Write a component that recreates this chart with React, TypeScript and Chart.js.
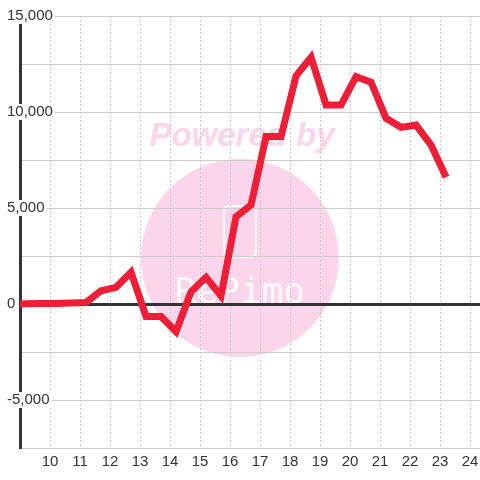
import React, { useEffect, useRef } from 'react';
import { Chart, registerables } from 'chart.js';

Chart.register(...registerables);

// hour of day (decimal) for each sample
const times = [
  8.7, 9.2, 9.7, 10.2, 10.7, 11.2, 11.7, 12.2, 12.7, 13.2, 13.7, 14.2, 14.7, 15.2, 15.7,
  16.2, 16.7, 17.2, 17.7, 18.2, 18.7, 19.2, 19.7, 20.2, 20.7, 21.2, 21.7, 22.2, 22.7, 23.2,
];
// series values
const values = [
  0, 10, 20, 30, 50, 80, 690, 870, 1650, -650, -650, -1440, 640, 1390, 420,
  4550, 5160, 8720, 8720, 11880, 12850, 10370, 10370, 11840, 11550, 9670, 9200, 9320, 8280, 6600,
];
// tick labels / grid positions
const xTickValues = [10, 11, 12, 13, 14, 15, 16, 17, 18, 19, 20, 21, 22, 23, 24];
const yTickValues = [15000, 12500, 10000, 7500, 5000, 2500, 0, -2500, -5000, -7500];
const yLabelValues = [15000, 10000, 5000, 0, -5000];

const watermark = {
  id: 'watermark',
  beforeDraw(chart: any) {
    const ctx = chart.ctx as CanvasRenderingContext2D;
    ctx.save();
    ctx.fillStyle = '#fbd5eb';
    ctx.beginPath();
    ctx.arc(240, 258, 99, 0, Math.PI * 2);
    ctx.fill();
    ctx.font = 'italic bold 33px "Liberation Sans"';
    ctx.textAlign = 'center';
    ctx.textBaseline = 'alphabetic';
    ctx.fillStyle = '#fbd5eb';
    ctx.fillText('Powered by', 242, 146);
    ctx.strokeStyle = 'rgba(255,255,255,0.9)';
    ctx.lineWidth = 2;
    ctx.beginPath();
    (ctx as any).roundRect(224, 206, 32, 51, 5);
    ctx.stroke();
    ctx.fillStyle = 'rgba(255,255,255,0.9)';
    ctx.font = '36px "DejaVu Sans Mono"';
    ctx.fillText('RePimo', 240, 303);
    ctx.restore();
  },
};

export default function App() {
  const ref = useRef<HTMLCanvasElement>(null);
  useEffect(() => {
    if (!ref.current) return;
    const font = { family: '"Liberation Sans", Arial, sans-serif', size: 15 };
    const chart = new Chart(ref.current, {
      type: 'line',
      data: {
        datasets: [
          {
            data: times.map((t, i) => ({ x: t, y: values[i] })),
            borderColor: 'rgb(237,30,54)',
            borderWidth: 7,
            pointRadius: 0,
            fill: false,
            tension: 0,
          },
        ],
      },
      options: {
        responsive: false,
        animation: false,
        layout: { padding: { top: 16, left: 0, right: 0, bottom: 0 } },
        plugins: { legend: { display: false }, tooltip: { enabled: false } },
        scales: {
          x: {
            type: 'linear',
            min: 9,
            max: 24.33,
            afterBuildTicks: (s: any) => {
              s.ticks = xTickValues.map((v) => ({ value: v }));
            },
            afterFit: (s: any) => {
              s.height = 32;
              s.paddingLeft = 0;
              s.paddingRight = 0;
            },
            ticks: {
              autoSkip: false,
              maxRotation: 0,
              minRotation: 0,
              padding: 5,
              color: '#333',
              font,
              callback: (v: any) => String(v),
            },
            grid: { color: '#cccccc', lineWidth: 1, drawTicks: false },
            border: { color: '#cccccc', width: 1, dash: [2, 2] },
          },
          y: {
            type: 'linear',
            min: -7500,
            max: 15000,
            afterBuildTicks: (s: any) => {
              s.ticks = yTickValues.map((v) => ({ value: v }));
            },
            afterFit: (s: any) => {
              s.width = 20;
            },
            ticks: {
              autoSkip: false,
              mirror: true,
              padding: -13,
              crossAlign: 'near',
              color: '#333',
              font,
              callback: (v: any) => (yLabelValues.includes(v) ? Number(v).toLocaleString('en-US') : ''),
              showLabelBackdrop: (c: any) => yLabelValues.includes(c.tick?.value),
              backdropColor: '#ffffff',
              backdropPadding: { x: 2, y: -1 },
            },
            grid: {
              color: (c: any) => (c.tick?.value === 0 ? '#333333' : '#cccccc'),
              lineWidth: (c: any) => (c.tick?.value === 0 ? 3 : 1),
              drawTicks: false,
            },
            border: { color: '#333333', width: 3 },
          },
        },
      } as any,
      plugins: [watermark],
    });
    return () => chart.destroy();
  }, []);
  return (
    <div style={{ position: 'absolute', left: 0, top: 0, width: 480, height: 480, background: '#fff' }}>
      <canvas ref={ref} width={480} height={480} />
    </div>
  );
}
